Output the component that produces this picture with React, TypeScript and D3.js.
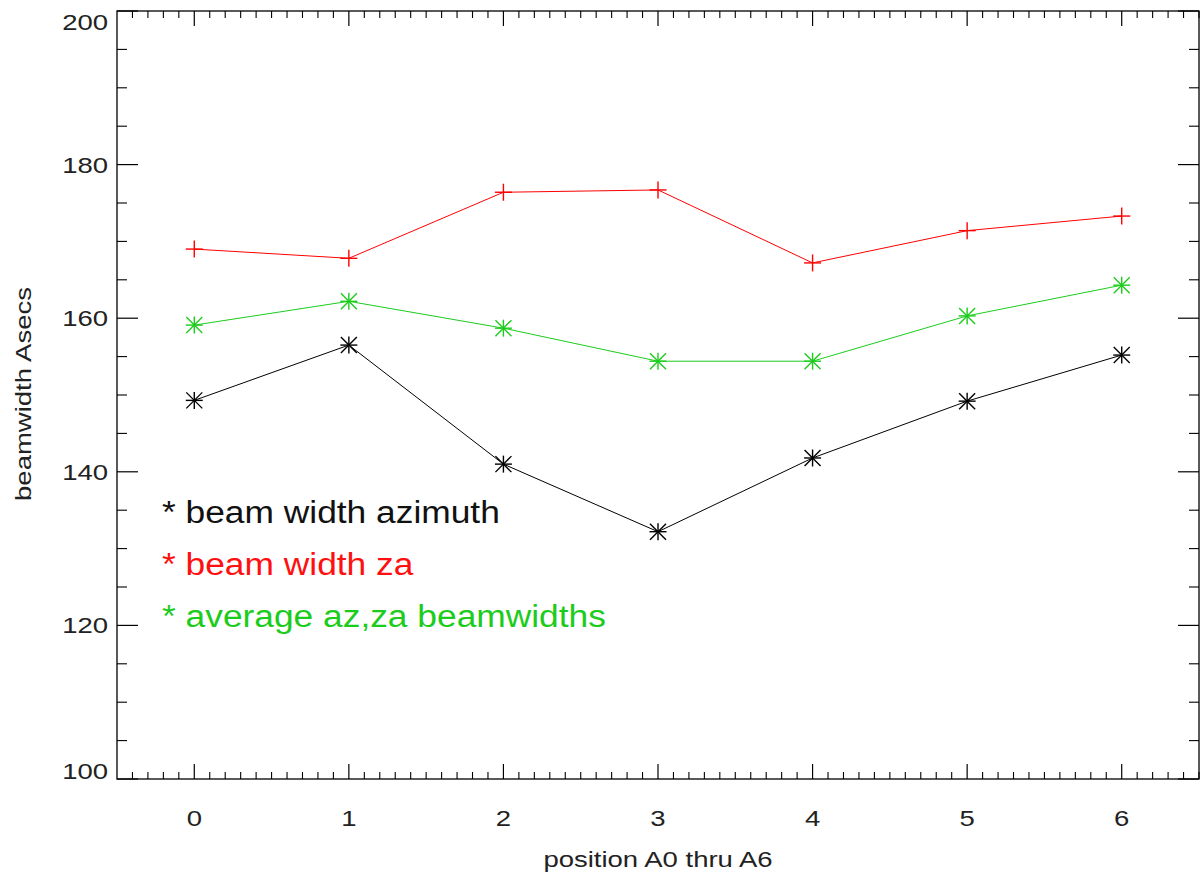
import React from "react";
import * as d3 from "d3";

const positions = [0, 1, 2, 3, 4, 5, 6];
const azimuth = [149.3, 156.5, 141.0, 132.2, 141.8, 149.2, 155.2];
const za = [169.0, 167.8, 176.4, 176.7, 167.2, 171.4, 173.3];
const average = [159.1, 162.2, 158.7, 154.4, 154.4, 160.3, 164.3];
const yTicks = [100, 120, 140, 160, 180, 200];
const legendLabels = ["beam width azimuth", "beam width za", "average az,za beamwidths"];

const W = 1201, H = 875;
const L = 117, R = 1199, T = 11, B = 779;
const FONT = "'Liberation Sans', Arial, Helvetica, sans-serif";
const GREEN = "#1ccc1c";

export default function App() {
  const x = d3.scaleLinear().domain([-0.5, 6.5]).range([L, R]);
  const y = d3.scaleLinear().domain([100, 200]).range([B, T]);
  const line = d3.line<number>().x((_, i) => x(positions[i])).y((d) => y(d));

  const xMinor = d3.range(-4, 66).map((v) => v / 10).filter((v) => Math.abs(v - Math.round(v)) > 1e-6);
  const yMinor = d3.range(100, 201, 5).filter((v) => v % 20 !== 0);

  const star = (cx: number, cy: number, color: string, k: string) => {
    const r = 8.5;
    const s = 8;
    return (
      <g key={k} stroke={color} strokeWidth={1.4}>
        <line x1={cx - r} y1={cy} x2={cx + r} y2={cy} />
        <line x1={cx} y1={cy - r} x2={cx} y2={cy + r} />
        <line x1={cx - s} y1={cy - s} x2={cx + s} y2={cy + s} />
        <line x1={cx - s} y1={cy + s} x2={cx + s} y2={cy - s} />
      </g>
    );
  };
  const plus = (cx: number, cy: number, color: string, k: string) => {
    const r = 8.5;
    return (
      <g key={k} stroke={color} strokeWidth={1.4}>
        <line x1={cx - r} y1={cy} x2={cx + r} y2={cy} />
        <line x1={cx} y1={cy - r} x2={cx} y2={cy + r} />
      </g>
    );
  };

  const legendColors = ["#111", "#ff1010", GREEN];
  const SX = 1.25;

  return (
    <svg width={W} height={H} style={{ position: "absolute", left: 0, top: 0, background: "#fff" }} fontFamily={FONT}>
      <rect x={0} y={0} width={W} height={H} fill="#fff" />
      {/* frame */}
      <rect x={L} y={T} width={R - L} height={B - T} fill="none" stroke="#000" strokeWidth={1.3} />
      {/* x ticks */}
      {positions.map((v) => (
        <g key={"xm" + v} stroke="#000" strokeWidth={1.2}>
          <line x1={x(v)} x2={x(v)} y1={B} y2={B - 15} />
          <line x1={x(v)} x2={x(v)} y1={T} y2={T + 15} />
        </g>
      ))}
      {xMinor.map((v, i) => (
        <g key={"xn" + i} stroke="#000" strokeWidth={1.1}>
          <line x1={x(v)} x2={x(v)} y1={B} y2={B - 7} />
          <line x1={x(v)} x2={x(v)} y1={T} y2={T + 7} />
        </g>
      ))}
      {/* y ticks */}
      {yTicks.map((v) => (
        <g key={"ym" + v} stroke="#000" strokeWidth={1.2}>
          <line x1={L} x2={L + 21} y1={y(v)} y2={y(v)} />
          <line x1={R} x2={R - 21} y1={y(v)} y2={y(v)} />
        </g>
      ))}
      {yMinor.map((v) => (
        <g key={"yn" + v} stroke="#000" strokeWidth={1.1}>
          <line x1={L} x2={L + 10} y1={y(v)} y2={y(v)} />
          <line x1={R} x2={R - 10} y1={y(v)} y2={y(v)} />
        </g>
      ))}
      {/* tick labels */}
      {positions.map((v) => (
        <text
          key={"xl" + v}
          transform={`translate(${x(v)},826) scale(${SX},1)`}
          textAnchor="middle"
          fontSize={22}
          fill="#222"
        >
          {v}
        </text>
      ))}
      {yTicks.map((v) => (
        <text
          key={"yl" + v}
          transform={`translate(108,${Math.min(Math.max(y(v), 22), 771) + 8}) scale(${SX},1)`}
          textAnchor="end"
          fontSize={22}
          fill="#222"
        >
          {v}
        </text>
      ))}
      <text transform={`translate(658,867) scale(${SX},1)`} textAnchor="middle" fontSize={22} fill="#222">
        position A0 thru A6
      </text>
      <text transform={`translate(31,394) rotate(-90) scale(${SX},1)`} textAnchor="middle" fontSize={22} fill="#222">
        beamwidth Asecs
      </text>
      {/* series */}
      <path d={line(azimuth) || ""} fill="none" stroke="#000" strokeWidth={1} />
      <path d={line(za) || ""} fill="none" stroke="#ff0000" strokeWidth={1} />
      <path d={line(average) || ""} fill="none" stroke={GREEN} strokeWidth={1} />
      {azimuth.map((d, i) => star(x(positions[i]), y(d), "#000", "a" + i))}
      {za.map((d, i) => plus(x(positions[i]), y(d), "#ff0000", "z" + i))}
      {average.map((d, i) => star(x(positions[i]), y(d), GREEN, "g" + i))}
      {/* legend */}
      {legendLabels.map((t, i) => (
        <text
          key={"lg" + i}
          transform={`translate(162,${523 + i * 52}) scale(1.14,1)`}
          fontSize={31}
          fill={legendColors[i]}
        >
          {"* " + t}
        </text>
      ))}
    </svg>
  );
}
